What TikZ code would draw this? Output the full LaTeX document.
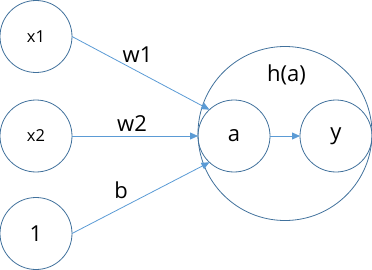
\documentclass[tikz,border=0pt]{standalone}
\usepackage{fontspec}
\setmainfont{Open Sans}
\usetikzlibrary{arrows.meta}
\definecolor{bord}{HTML}{41719C}
\definecolor{fleche}{HTML}{5B9BD5}
\tikzset{
    neurone/.style={circle, draw=bord, line width=0.8pt, minimum size=72pt, inner sep=0pt, outer sep=0pt, font=\fontsize{22}{26}\selectfont},
    entree/.style={neurone, font=\fontsize{16.5}{19}\selectfont},
    lien/.style={draw=fleche, line width=0.8pt, -{Triangle[length=8pt, width=7pt]}},
    poids/.style={inner sep=0pt, font=\fontsize{22}{26}\selectfont}
}
\begin{document}
\begin{tikzpicture}[x=1pt, y=-1pt]
    \useasboundingbox (0,0) rectangle (372,270);

    % Grand cercle de h(a)
    \node[neurone, minimum size=174pt] (h) at (285,133.5) {};
    \node[poids] (ha) at (286.5,75) {h(a)};

    % Entrees
    \node[entree] (x1) at (36,36.5) {x1};
    \node[entree] (x2) at (36,136) {x2};
    \node[neurone] (one) at (36,233.5) {1};

    % Neurones a et y
    \node[neurone] (a) at (234,136) {a};
    \node[neurone] (y) at (336,136) {y};

    % Fleches
    \draw[lien] (x1.east) -- (a.133);
    \draw[lien] (x2.east) -- (a.west);
    \draw[lien] (one.east) -- (a.227);
    \draw[lien] (a.east) -- (y.west);

    %Les poids sur les fleches
    \node[poids] (w1) at (137.5,55) {w1};
    \node[poids] (w2) at (132,123.5) {w2};
    \node[poids] (b) at (121,190) {b};
\end{tikzpicture}
\end{document}
